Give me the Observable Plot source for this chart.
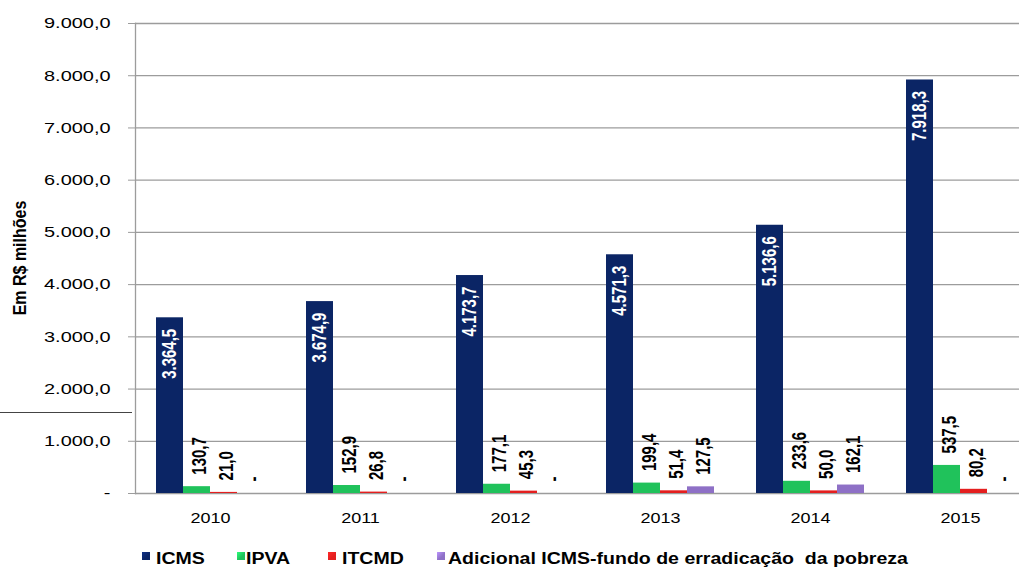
<!DOCTYPE html>
<html><head><meta charset="utf-8">
<script src="https://cdn.jsdelivr.net/npm/d3@7"></script>
<script src="https://cdn.jsdelivr.net/npm/@observablehq/plot@0.6"></script>
<style>
body{margin:0;background:#fff;font-family:"Liberation Sans",Arial,sans-serif;}
#wrap{position:relative;width:1019px;height:567px;overflow:hidden;background:#fff;}
#chart{position:absolute;left:0;top:0;}
.sw{position:absolute;top:552px;width:8px;height:8px;}
.lt{position:absolute;top:550px;height:18px;font-weight:bold;font-size:16px;line-height:18px;color:#000;white-space:pre;transform:scaleX(1.22);transform-origin:0 0;}
#ytitle{position:absolute;left:20px;top:258px;font-weight:bold;font-size:16px;white-space:nowrap;transform:translate(-50%,-50%) rotate(-90deg) scaleY(1.2);}
#artifact{position:absolute;left:0;top:412px;width:132px;height:1px;background:#444;}
</style></head><body>
<div id="wrap"><div id="chart"></div><div id="ytitle">Em R$ milhões</div><div id="artifact"></div></div>
<script>
const years = ["2010","2011","2012","2013","2014","2015"];
const series = ["ICMS","IPVA","ITCMD","Adicional ICMS-fundo de erradicação  da pobreza"];
const icms = [3364.5,3674.9,4173.7,4571.3,5136.6,7918.3];
const ipva = [130.7,152.9,177.1,199.4,233.6,537.5];
const itcmd = [21.0,26.8,45.3,51.4,50.0,80.2];
const adicional = [0,0,0,127.5,162.1,0];
const colors = ["#0b2565","#20c25b","#e41f1f","#8e70c6"];
const yTicks = [0,1000,2000,3000,4000,5000,6000,7000,8000,9000];

const valuesBySeries = [icms, ipva, itcmd, adicional];
const rows = [];
years.forEach((y,i)=>series.forEach((s,j)=>rows.push({year:y, series:s, value:valuesBySeries[j][i]})));

const loc = d3.formatLocale({decimal:",", thousands:".", grouping:[3], currency:["R$",""]});
const f1 = loc.format(",.1f");
const fmt = v => v === 0 ? "-" : f1(v);

// half of the gap between year groups, so gridlines join up across facets
const fxRange = [135, 1035], pIn = 0.28, pOut = 0.14;
const step = (fxRange[1]-fxRange[0]) / (years.length - pIn + 2*pOut);
const half = step * pIn / 2;

const chart = Plot.plot({
  width:1019, height:540,
  marginLeft:135, marginRight:0, marginTop:23, marginBottom:47,
  style:{fontFamily:"'Liberation Sans', Arial, sans-serif", fontSize:"15px", color:"#000", background:"#fff", overflow:"hidden"},
  fx:{domain:years, range:fxRange, paddingInner:pIn, paddingOuter:pOut, label:null, axis:null},
  x:{domain:series, padding:0, axis:null},
  y:{domain:[0,9000], axis:null},
  color:{domain:series, range:colors},
  marks:[
    Plot.ruleY(yTicks, {stroke:"#9c9c9c", strokeWidth:1.3, insetLeft:-half, insetRight:-half}),
    Plot.frame({anchor:"left", facetAnchor:"left", stroke:"#9c9c9c", strokeWidth:1.3, dx:-half}),
    Plot.axisY({ticks:yTicks, tickSize:7, tickPadding:18, tickFormat:fmt, stroke:"#9c9c9c", label:null, dx:-half}),
    Plot.barY(rows, {fx:"year", x:"series", y:"value", fill:"series"}),
    Plot.text(rows.filter(d=>d.series==="ICMS"), {fx:"year", x:"series", y:"value", text:d=>fmt(d.value), rotate:-90, textAnchor:"end", lineAnchor:"middle", dy:11, fill:"white", fontWeight:"bold", fontSize:15}),
    Plot.text(rows.filter(d=>d.series!=="ICMS"), {fx:"year", x:"series", y:"value", text:d=>fmt(d.value), rotate:-90, textAnchor:"start", lineAnchor:"middle", dy:-12, dx:3, fill:"black", fontWeight:"bold", fontSize:15}),
    Plot.axisFx({anchor:"bottom", tickSize:0, tickPadding:19, label:null, fontSize:15})
  ]
});
document.getElementById("chart").appendChild(chart);

// horizontal stretch of the original picture's text
const svg = d3.select(chart);
svg.selectAll('g[aria-label="y-axis tick label"] text').each(function(){
  const t = this.getAttribute("transform") || "";
  this.setAttribute("transform", t + " scale(1.33,1)");
});
svg.selectAll('g[aria-label="fx-axis tick label"] text').each(function(){
  const t = this.getAttribute("transform") || "";
  this.setAttribute("transform", t + " scale(1.2,1)");
});
svg.selectAll('g[aria-label="text"] text').each(function(){
  const t = this.getAttribute("transform") || "";
  this.setAttribute("transform", t + " scale(1,1.3)");
});

// legend
const swLeft = [142, 237, 328, 437];
const txtLeft = [156, 246, 342, 448];
const wrap = document.getElementById("wrap");
series.forEach((s,i)=>{
  const sw = document.createElement("div");
  sw.className = "sw";
  sw.style.left = swLeft[i] + "px";
  sw.style.background = `linear-gradient(135deg, ${d3.color(colors[i]).brighter(0.8)}, ${colors[i]} 60%)`;
  const lt = document.createElement("div");
  lt.className = "lt";
  lt.style.left = txtLeft[i] + "px";
  lt.textContent = s;
  wrap.appendChild(sw); wrap.appendChild(lt);
});
</script>
</body></html>
